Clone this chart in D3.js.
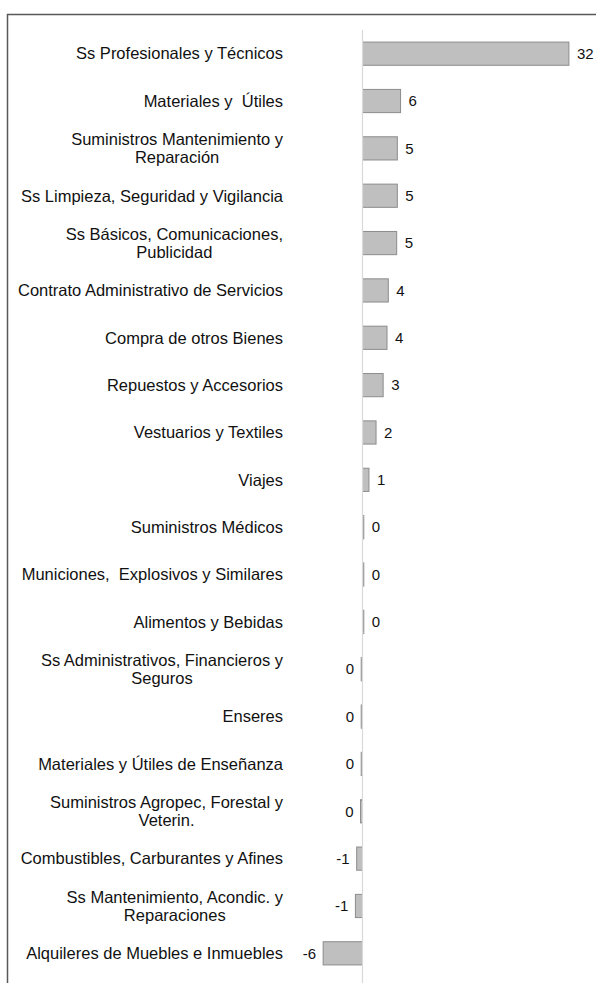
<!DOCTYPE html>
<html lang="es">
<head>
    <meta charset="UTF-8">
    <title>Variación por concepto</title>
    <style>
        body { margin: 0; background: #fff; }
        svg { display: block; font-family: 'Liberation Sans', Arial, sans-serif; }
        svg text { white-space: pre; }
    </style>
    <script src="https://d3js.org/d3.v7.min.js"></script>
</head>
<body>
    <script>
        // categorias (cada elemento = lineas del rotulo)
        const categories = [
            ['Ss Profesionales y Técnicos'],
            ['Materiales y  Útiles'],
            ['Suministros Mantenimiento y', 'Reparación'],
            ['Ss Limpieza, Seguridad y Vigilancia'],
            ['Ss Básicos, Comunicaciones,', 'Publicidad'],
            ['Contrato Administrativo de Servicios'],
            ['Compra de otros Bienes'],
            ['Repuestos y Accesorios'],
            ['Vestuarios y Textiles'],
            ['Viajes'],
            ['Suministros Médicos'],
            ['Municiones,  Explosivos y Similares'],
            ['Alimentos y Bebidas'],
            ['Ss Administrativos, Financieros y', 'Seguros'],
            ['Enseres'],
            ['Materiales y Útiles de Enseñanza'],
            ['Suministros Agropec, Forestal y', 'Veterin.'],
            ['Combustibles, Carburantes y Afines'],
            ['Ss Mantenimiento, Acondic. y', 'Reparaciones'],
            ['Alquileres de Muebles e Inmuebles']
        ]
        const values = [32, 5.9, 5.4, 5.4, 5.3, 4.0, 3.8, 3.2, 2.1, 1.0,
                        0.2, 0.2, 0.2, -0.2, -0.2, -0.2, -0.3, -0.9, -1.1, -6.1]

        const width = 596
        const height = 983
        const labelRight = 283

        const svg = d3.select('body').append('svg').attr('width', width).attr('height', height)

        // marco
        svg.append('path')
            .attr('d', `M7.5,${height} V14.5 H${width}`)
            .attr('fill', 'none').attr('stroke', '#595959').attr('stroke-width', 1.5)

        const idx = d3.range(values.length)
        const yscale = d3.scaleBand().domain(idx).range([30, 977]).paddingInner(0.51).paddingOuter(0.255)
        const xscale = d3.scaleLinear().domain([-6, 32]).range([323.8, 568.9])

        // barras
        svg.append('g').selectAll('rect')
            .data(idx)
            .join('rect')
            .attr('x', i => xscale(Math.min(0, values[i])))
            .attr('y', i => yscale(i))
            .attr('width', i => Math.abs(xscale(values[i]) - xscale(0)))
            .attr('height', yscale.bandwidth())
            .attr('fill', '#bfbfbf')
            .attr('stroke', '#8c8c8c')
            .attr('stroke-width', 1)

        // eje vertical en cero
        svg.append('line')
            .attr('x1', xscale(0)).attr('x2', xscale(0))
            .attr('y1', 30).attr('y2', height)
            .attr('stroke', '#d9d9d9').attr('stroke-width', 1.2)

        // valores
        svg.append('g').selectAll('text')
            .data(idx)
            .join('text')
            .attr('x', i => values[i] >= 0 ? xscale(values[i]) + 8 : xscale(values[i]) - 7)
            .attr('y', i => yscale(i) + yscale.bandwidth() / 2)
            .attr('dy', '0.35em')
            .attr('text-anchor', i => values[i] >= 0 ? 'start' : 'end')
            .attr('font-size', 15)
            .attr('fill', '#111')
            .text(i => d3.format('.0f')(values[i]).replace('−', '-').replace('-0', '0'))

        // rotulos de categorias: bloque alineado a la derecha, lineas centradas
        const lineH = 18
        categories.forEach((lines, i) => {
            const g = svg.append('g')
            const cy = yscale(i) + yscale.bandwidth() / 2
            const texts = lines.map((s, k) => g.append('text')
                .attr('y', cy + (k - (lines.length - 1) / 2) * lineH)
                .attr('dy', '0.35em')
                .attr('font-size', 16.5)
                .attr('fill', '#111')
                .attr('text-anchor', 'middle')
                .text(s))
            const w = d3.max(texts, t => t.node().getComputedTextLength())
            texts.forEach(t => t.attr('x', labelRight - w / 2))
        })
    </script>
</body>
</html>
